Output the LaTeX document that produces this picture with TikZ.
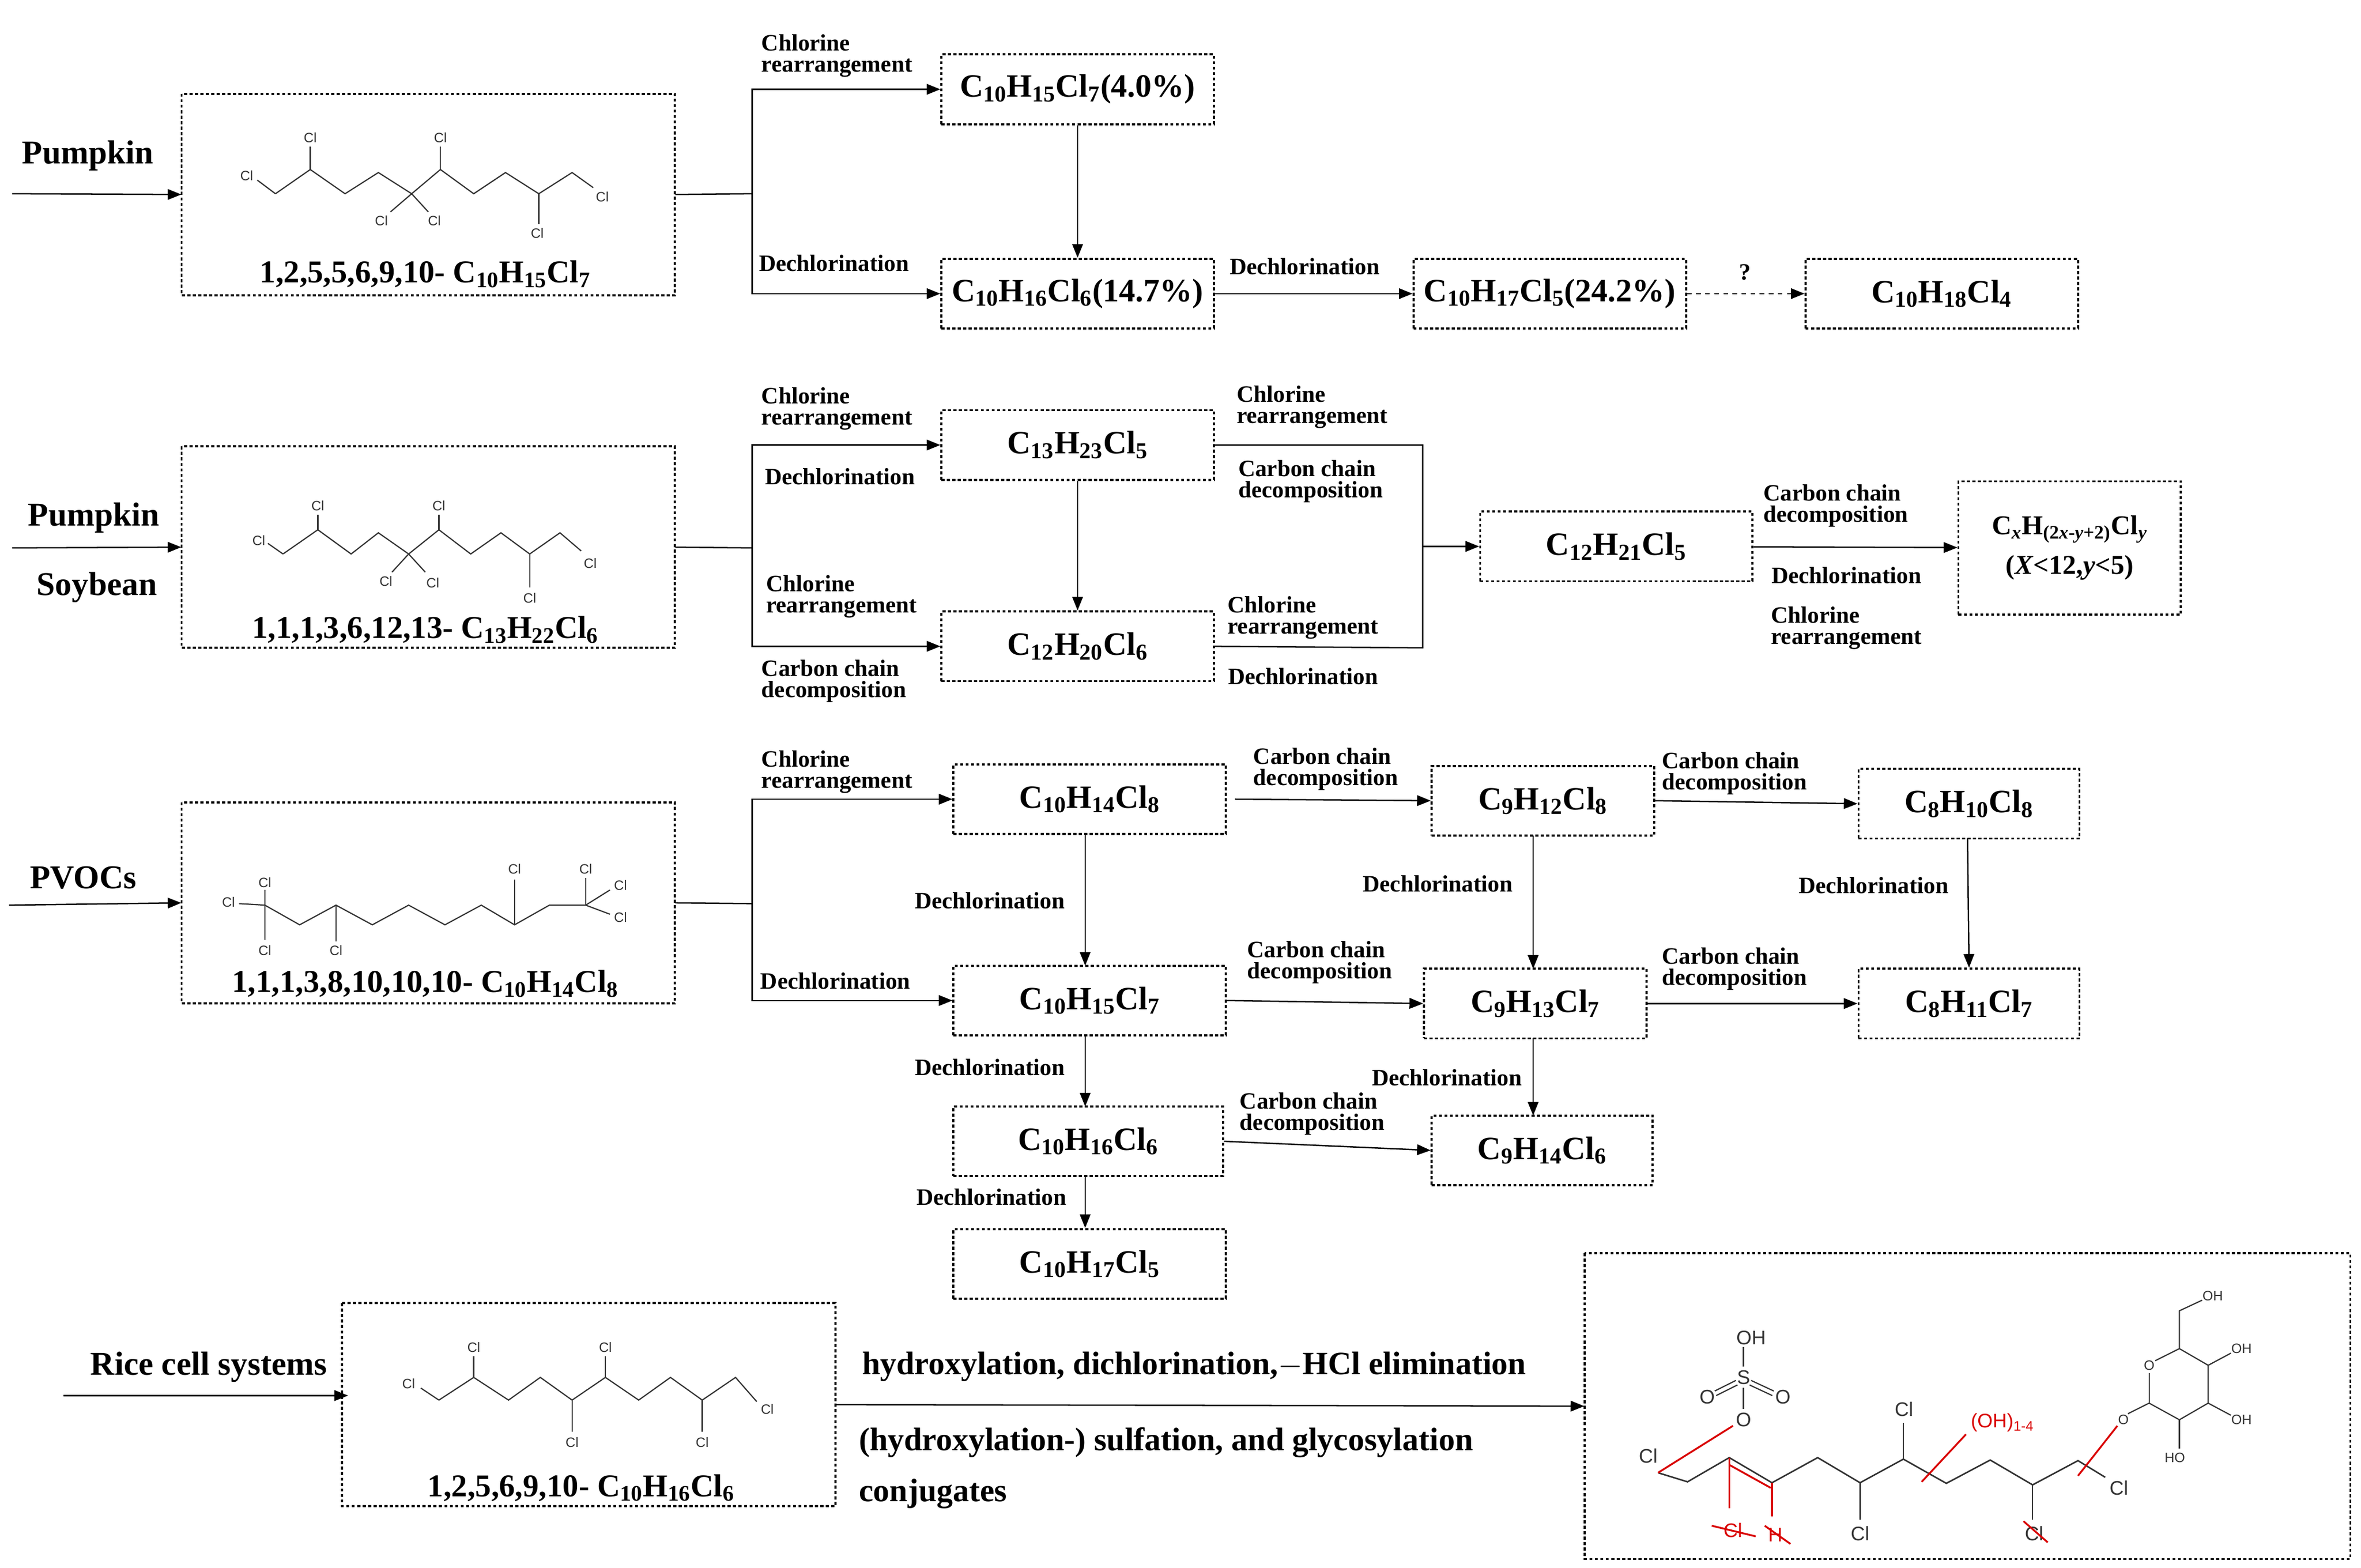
\documentclass[tikz,border=0pt]{standalone}
\usepackage{fontspec}
\setmainfont{Liberation Serif}
\newfontfamily\chemf{Liberation Sans}
\usetikzlibrary{arrows.meta}
\begin{document}
\begin{tikzpicture}[x=1pt,y=-1pt,
  box/.style={draw,line width=1.4pt,dash pattern=on 2pt off 1.6pt,inner sep=0pt},
  cmp/.style={font=\fontsize{21.5}{22}\selectfont\bfseries},
  lab/.style={font=\fontsize{15.5}{15}\selectfont\bfseries,align=left},
  src/.style={font=\fontsize{22}{22}\selectfont\bfseries},
  ttl/.style={font=\fontsize{21}{22}\selectfont\bfseries},
  big/.style={font=\fontsize{21.5}{22}\selectfont\bfseries},
  ln/.style={line width=0.9pt},
  arr/.style={ln,-{Triangle[length=9pt,width=7pt]}},
  bond/.style={line width=0.8pt,draw=black!80},
  rb/.style={line width=1.2pt,draw=red!85!black},
  cl/.style={font=\chemf\fontsize{9}{9}\selectfont,inner sep=0pt,text=black!80},
  cl2/.style={font=\chemf\fontsize{13}{13}\selectfont,inner sep=0pt,text=black!80},
  rl/.style={font=\chemf\fontsize{13}{13}\selectfont,inner sep=0pt,text=red!85!black}]
\useasboundingbox (0,0) rectangle (1560,1035.6);

% ---------------- Row 1 ----------------
\node[src] (t1) at (58,103) {Pumpkin};
\coordinate (s1) at (8,128);
\draw[box] (120,62) rectangle (446,195);
\node (b1) at (283,128.5) [minimum width=326pt,minimum height=133pt] {};
\node[ttl] (b1t) at (281,181) {1,2,5,5,6,9,10- C\textsubscript{10}H\textsubscript{15}Cl\textsubscript{7}};
\draw[arr] (s1) -- (b1.west);
\draw[bond] (182,128)--(205,112)--(228,128)--(250,114)--(272,128)--(291,112)--(313,128)--(334,114)--(356,128)--(378,114)--(392,124);
\draw[bond] (182,128)--(170,119); \node[cl] (c11) at (163,116) {Cl};
\draw[bond] (205,112)--(205,97); \node[cl] (c12) at (205,91) {Cl};
\draw[bond] (272,128)--(258,140); \node[cl] (c13) at (252,146) {Cl};
\draw[bond] (272,128)--(283,140); \node[cl] (c14) at (287,146) {Cl};
\draw[bond] (291,112)--(291,97); \node[cl] (c15) at (291,91) {Cl};
\draw[bond] (356,128)--(356,148); \node[cl] (c16) at (355,154) {Cl};
\node[cl] (c17) at (398,130) {Cl};

\node[box,cmp,minimum width=180pt,minimum height=46pt] (A) at (712,59) {C\textsubscript{10}H\textsubscript{15}Cl\textsubscript{7}(4.0\%)};
\node[box,cmp,minimum width=180pt,minimum height=46pt] (B) at (712,194) {C\textsubscript{10}H\textsubscript{16}Cl\textsubscript{6}(14.7\%)};
\node[box,cmp,minimum width=180pt,minimum height=46pt] (C) at (1024,194) {C\textsubscript{10}H\textsubscript{17}Cl\textsubscript{5}(24.2\%)};
\node[box,cmp,minimum width=180pt,minimum height=46pt] (D) at (1283,194) {C\textsubscript{10}H\textsubscript{18}Cl\textsubscript{4}};
\coordinate (j1) at (497,128);
\draw[ln] (b1.east) -- (j1);
\draw[arr] (j1) |- (A.west);
\draw[arr] (j1) |- (B.west);
\draw[arr] (A) -- (B);
\draw[arr] (B) -- (C);
\draw[arr,dashed] (C) -- (D);
\node[lab] (l1) at (553,37) {Chlorine\\[-1pt]rearrangement};
\node[lab] (l2) at (551,174) {Dechlorination};
\node[lab] (l3) at (862,176) {Dechlorination};
\node[lab] (l4) at (1153,180) {?};

% ---------------- Row 2 ----------------
\node[src] (t2) at (62,342) {Pumpkin};
\node[src] (t3) at (64,388) {Soybean};
\coordinate (s2) at (8,362);
\draw[box] (120,295) rectangle (446,428);
\node (b2) at (283,361.5) [minimum width=326pt,minimum height=133pt] {};
\node[ttl] (b2t) at (281,416) {1,1,1,3,6,12,13- C\textsubscript{13}H\textsubscript{22}Cl\textsubscript{6}};
\draw[arr] (s2) -- (b2.west);
\draw[bond] (187,366)--(210,350)--(232,366)--(250,352)--(270,366)--(290,350)--(311,366)--(331,352)--(350,366)--(370,352)--(384,364);
\draw[bond] (187,366)--(177,359); \node[cl] (c21) at (171,357) {Cl};
\draw[bond] (210,350)--(210,340); \node[cl] (c22) at (210,334) {Cl};
\draw[bond] (270,366)--(259,378); \node[cl] (c23) at (255,384) {Cl};
\draw[bond] (270,366)--(281,378); \node[cl] (c24) at (286,385) {Cl};
\draw[bond] (290,350)--(290,340); \node[cl] (c25) at (290,334) {Cl};
\draw[bond] (350,366)--(350,388); \node[cl] (c26) at (350,395) {Cl};
\node[cl] (c27) at (390,372) {Cl};

\node[box,cmp,minimum width=180pt,minimum height=46pt] (E) at (712,294) {C\textsubscript{13}H\textsubscript{23}Cl\textsubscript{5}};
\node[box,cmp,minimum width=180pt,minimum height=46pt] (F) at (712,427) {C\textsubscript{12}H\textsubscript{20}Cl\textsubscript{6}};
\node[box,cmp,minimum width=180pt,minimum height=46pt] (G) at (1068,361) {C\textsubscript{12}H\textsubscript{21}Cl\textsubscript{5}};
\node[box,minimum width=147pt,minimum height=88pt,align=center,font=\fontsize{18}{26}\selectfont\bfseries] (H) at (1367.5,362) {C\textsubscript{\textit{x}}H\textsubscript{(2\textit{x}-\textit{y}+2)}Cl\textsubscript{\textit{y}}\\(\textit{X}<12,\textit{y}<5)};
\coordinate (j2) at (497,362);
\coordinate (j3) at (940,294);
\coordinate (j4) at (940,428);
\coordinate (j5) at (940,361);
\draw[ln] (b2.east) -- (j2);
\draw[arr] (j2) |- (E.west);
\draw[arr] (j2) |- (F.west);
\draw[arr] (E) -- (F);
\draw[ln] (E.east) -- (j3) -- (j4) -- (F.east);
\draw[arr] (j5) -- (G.west);
\draw[arr] (G) -- (H);
\node[lab] (m1) at (553,270) {Chlorine\\[-1pt]rearrangement};
\node[lab] (m2) at (555,315) {Dechlorination};
\node[lab] (m3) at (556,394) {Chlorine\\[-1pt]rearrangement};
\node[lab] (m4) at (551,450) {Carbon chain\\[-1pt]decomposition};
\node[lab] (m5) at (867,269) {Chlorine\\[-1pt]rearrangement};
\node[lab] (m6) at (866,318) {Carbon chain\\[-1pt]decomposition};
\node[lab] (m7) at (861,408) {Chlorine\\[-1pt]rearrangement};
\node[lab] (m8) at (861,447) {Dechlorination};
\node[lab] (m9) at (1213,334) {Carbon chain\\[-1pt]decomposition};
\node[lab] (m10) at (1220,380) {Dechlorination};
\node[lab] (m11) at (1220,415) {Chlorine\\[-1pt]rearrangement};

% ---------------- Row 3 ----------------
\node[src] (t4) at (55,580) {PVOCs};
\coordinate (s3) at (6,598);
\draw[box] (120,530) rectangle (446,663);
\node (b3) at (283,596.5) [minimum width=326pt,minimum height=133pt] {};
\node[ttl] (b3t) at (281,650) {1,1,1,3,8,10,10,10- C\textsubscript{10}H\textsubscript{14}Cl\textsubscript{8}};
\draw[arr] (s3) -- (b3.west);
\draw[bond] (175,598)--(198,611)--(222,598)--(246,611)--(270,598)--(294,611)--(318,598)--(340,611)--(363,598)--(387,598);
\draw[bond] (175,598)--(158,597); \node[cl] (c31) at (151,596) {Cl};
\draw[bond] (175,598)--(175,588); \node[cl] (c32) at (175,583) {Cl};
\draw[bond] (175,598)--(175,621); \node[cl] (c33) at (175,628) {Cl};
\draw[bond] (222,598)--(222,622); \node[cl] (c34) at (222,628) {Cl};
\draw[bond] (340,611)--(340,581); \node[cl] (c35) at (340,574) {Cl};
\draw[bond] (387,598)--(387,580); \node[cl] (c36) at (387,574) {Cl};
\draw[bond] (387,598)--(403,588); \node[cl] (c37) at (410,585) {Cl};
\draw[bond] (387,598)--(403,604); \node[cl] (c38) at (410,606) {Cl};

\node[box,cmp,minimum width=180pt,minimum height=46pt] (I) at (720,528) {C\textsubscript{10}H\textsubscript{14}Cl\textsubscript{8}};
\node[box,cmp,minimum width=180pt,minimum height=46pt] (J) at (720,661) {C\textsubscript{10}H\textsubscript{15}Cl\textsubscript{7}};
\node[box,cmp,minimum width=147pt,minimum height=46pt] (K) at (1019.5,529) {C\textsubscript{9}H\textsubscript{12}Cl\textsubscript{8}};
\node[box,cmp,minimum width=146pt,minimum height=46pt] (M) at (1301,531) {C\textsubscript{8}H\textsubscript{10}Cl\textsubscript{8}};
\node[box,cmp,minimum width=147pt,minimum height=46pt] (L) at (1014.5,663) {C\textsubscript{9}H\textsubscript{13}Cl\textsubscript{7}};
\node[box,cmp,minimum width=146pt,minimum height=46pt] (N) at (1301,663) {C\textsubscript{8}H\textsubscript{11}Cl\textsubscript{7}};
\node[box,cmp,minimum width=178pt,minimum height=46pt] (O) at (719,754) {C\textsubscript{10}H\textsubscript{16}Cl\textsubscript{6}};
\node[box,cmp,minimum width=146pt,minimum height=46pt] (P) at (1019,760) {C\textsubscript{9}H\textsubscript{14}Cl\textsubscript{6}};
\node[box,cmp,minimum width=180pt,minimum height=46pt] (Q) at (720,835) {C\textsubscript{10}H\textsubscript{17}Cl\textsubscript{5}};
\coordinate (j6) at (497,597);
\draw[ln] (b3.east) -- (j6);
\draw[arr] (j6) |- (I.west);
\draw[arr] (j6) |- (J.west);
\draw[arr] (717,551) -- (717,638);
\draw[arr] (816,528) -- (K.west);
\draw[arr] (1013,552) -- (1013,640);
\draw[arr] (K.east) -- (M.west);
\draw[arr] (1300,554) -- (N.north);
\draw[arr] (J.east) -- (L.west);
\draw[arr] (L.east) -- (N.west);
\draw[arr] (1013,686) -- (1013,737);
\draw[arr] (717,684) -- (717,731);
\draw[arr] (O.east) -- (P.west);
\draw[arr] (717,777) -- (Q.north -| 717,0);
\node[lab] (n1) at (553,510) {Chlorine\\[-1pt]rearrangement};
\node[lab] (n2) at (552,648) {Dechlorination};
\node[lab] (n3) at (654,595) {Dechlorination};
\node[lab] (n4) at (876,508) {Carbon chain\\[-1pt]decomposition};
\node[lab] (n5) at (950,584) {Dechlorination};
\node[lab] (n6) at (1146,511) {Carbon chain\\[-1pt]decomposition};
\node[lab] (n7) at (1238,585) {Dechlorination};
\node[lab] (n8) at (872,636) {Carbon chain\\[-1pt]decomposition};
\node[lab] (n9) at (1146,640) {Carbon chain\\[-1pt]decomposition};
\node[lab] (n10) at (956,712) {Dechlorination};
\node[lab] (n11) at (654,705) {Dechlorination};
\node[lab] (n12) at (867,736) {Carbon chain\\[-1pt]decomposition};
\node[lab] (n13) at (655,791) {Dechlorination};

% ---------------- Row 4 ----------------
\node[src] (t5) at (138,903) {Rice cell systems};
\coordinate (s4) at (42,922);
\draw[box] (226,861) rectangle (552,995);
\node (b4) at (389,928) [minimum width=326pt,minimum height=134pt] {};
\node[ttl] (b4t) at (384,983) {1,2,5,6,9,10- C\textsubscript{10}H\textsubscript{16}Cl\textsubscript{6}};
\draw[arr] (s4) -- (230,922);
\draw[bond] (290,925)--(313,910)--(336,925)--(357,910)--(378,925)--(400,910)--(422,925)--(443,910)--(464,925)--(486,910)--(500,926);
\draw[bond] (290,925)--(278,917); \node[cl] (c41) at (270,914) {Cl};
\draw[bond] (313,910)--(313,896); \node[cl] (c42) at (313,890) {Cl};
\draw[bond] (378,925)--(378,946); \node[cl] (c43) at (378,953) {Cl};
\draw[bond] (400,910)--(400,896); \node[cl] (c44) at (400,890) {Cl};
\draw[bond] (464,925)--(464,946); \node[cl] (c45) at (464,953) {Cl};
\node[cl] (c46) at (507,931) {Cl};

\draw[box] (1047,828) rectangle (1553,1030);
\node (R) at (1300,929) [minimum width=506pt,minimum height=202pt] {};
\draw[arr] (b4.east |- 0,928) -- (R.west);
\node[big] (r1) at (789,903) {hydroxylation, dichlorination,$-$HCl elimination};
\node[big,anchor=west] (r2) at (564,953) {(hydroxylation-) sulfation, and glycosylation};
\node[big,anchor=west] (r3) at (564,987) {conjugates};

% product structure
\draw[bond,line width=1pt] (1095.5,973)--(1115,979)--(1142.6,963)--(1170.8,979.6)--(1201,963)--(1229,979.6)--(1257.6,964)--(1286,980)--(1315,964.6)--(1343,981)--(1373,965)--(1391,976);
\node[cl2] (p1) at (1089,962) {Cl};
\node[cl2] (p2) at (1400,983) {Cl};
\draw[bond,line width=1pt] (1257.6,964)--(1257.6,940); \node[cl2] (p3) at (1258,931) {Cl};
\draw[bond,line width=1pt] (1229,979.6)--(1229,1004); \node[cl2] (p4) at (1229,1013) {Cl};
\draw[bond,line width=1pt] (1343,981)--(1343,1004); \node[cl2] (p5) at (1344,1013) {Cl};
\draw[rb] (1337,1005)--(1353,1019);
% sulfate
\node[cl2] (o1) at (1152,938) {O};
\node[cl2] (sS) at (1152,910) {S};
\node[cl2] (o2) at (1128,923) {O};
\node[cl2] (o3) at (1178,923) {O};
\node[cl2] (oh1) at (1157,884) {OH};
\draw[bond] (1152,931)--(1152,917);
\draw[bond] (1152,903)--(1152,890);
\draw[bond] (1133,919)--(1147,912) (1134,922)--(1148,915);
\draw[bond] (1157,912)--(1172,919) (1156,915)--(1171,922);
% red marks
\draw[rb] (1095.5,973)--(1145,942);
\draw[rb] (1142.6,963)--(1142.6,996.6);
\draw[rb] (1170.8,979.6)--(1170.8,1002);
\draw[rb] (1143,968)--(1170,983);
\node[rl] (rc) at (1145,1011) {Cl};
\draw[rb] (1131,1008)--(1160,1015);
\node[rl] (rh) at (1173,1014) {H};
\draw[rb] (1166,1008)--(1183,1020);
\draw[rb] (1269.7,979)--(1299,947.6);
\node[rl,anchor=west] (roh) at (1302,940) {(OH)\textsubscript{1-4}};
\draw[rb] (1373,975)--(1399,942);
% sugar
\node[cl] (og) at (1403,938) {O};
\node[cl] (or) at (1420,902) {O};
\node[cl] (oh2) at (1462,856) {OH};
\node[cl] (oh3) at (1481,891) {OH};
\node[cl] (oh4) at (1481,938) {OH};
\node[cl] (oh5) at (1437,963) {HO};
\draw[bond] (1406,934)--(1420,927)--(1440,938)--(1459,927)--(1459,902)--(1440,891)--(1424,899);
\draw[bond] (1420,927)--(1420,907);
\draw[bond] (1440,938)--(1440,957);
\draw[bond] (1459,927)--(1474,935);
\draw[bond] (1459,902)--(1474,894);
\draw[bond] (1440,891)--(1440,866)--(1455,859);
\end{tikzpicture}
\end{document}
